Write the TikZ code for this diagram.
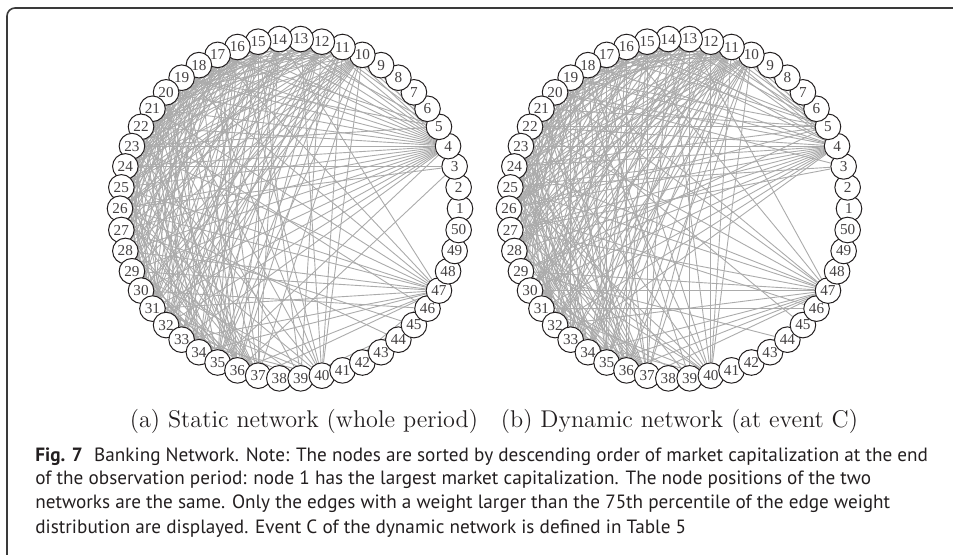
\documentclass[tikz,border=0pt]{standalone}
\usepackage{fontspec}
\usepackage{tikz}
\usetikzlibrary{positioning,backgrounds}
\newfontfamily\labelfont{Liberation Serif}
\newfontfamily\captionfont{PT Sans}
\definecolor{framegray}{HTML}{3A3A3A}
\definecolor{edgegray}{HTML}{ABABAB}
\definecolor{inkdark}{HTML}{231F20}
\tikzset{
  banknode/.style={
    circle,
    draw=inkdark,
    fill=white,
    line width=0.5pt,
    minimum size=12.8pt,
    inner sep=0pt,
    font=\labelfont\fontsize{7.6}{8}\selectfont,
    text=inkdark!85
  },
  link/.style={draw=edgegray, line width=0.45pt},
  subcap/.style={font=\fontsize{12.1}{14}\selectfont, text=inkdark},
  capline/.style={anchor=base west, inner sep=0pt, text=inkdark,
    font=\captionfont\fontsize{9.6}{12}\selectfont}
}

\begin{document}
\begin{tikzpicture}[x=0.5pt, y=-0.5pt]
  \useasboundingbox (0,0) rectangle (953,555);
  % outer frame
  \draw[framegray, line width=0.8pt, rounded corners=4pt] (7,556) -- (7,8) -- (954,8);

  % banks on a circle, node 1 on the right, counter-clockwise
  \foreach \p/\cx in {a/290, b/679}{
    \foreach \k in {1,...,50}{
      \node[banknode] (\p\k) at ({\cx+170*cos((\k-1)*7.2)}, {208.7-170*sin((\k-1)*7.2)}) {\k};
    }
  }

  \begin{scope}[on background layer]
    % static network: hubs
    \foreach \i/\js in {4/{10,11,12,13,14,15,16,17,18,19,20,21,22,23,24,25,26,27,28,29,30,31,32,33,35},
                        5/{11,12,14,17,19,23},
                        3/{24,26,36},
                        47/{14,17,19,21,23,25,26,28,29,31,33,34,36,37,41},
                        46/{22,30},
                        45/{27,39},
                        44/{26},
                        40/{10,11,13,16,18,20,23,26,29,31,33},
                        39/{12,15,21,28,32}}{
      \foreach \j in \js
        \draw[link] (a\i) -- (a\j);
    }
    % static network: dense core
    \pgfmathsetseed{7}
    \foreach \i in {10,...,36}{
      \pgfmathtruncatemacro{\nxt}{\i+1}
      \foreach \j in {\nxt,...,37}{
        \pgfmathrandominteger{\r}{1}{100}
        \ifnum\r<60 \draw[link] (a\i) -- (a\j); \fi
      }
    }

    % dynamic network: hubs
    \foreach \i/\js in {4/{10,11,12,13,15,16,18,19,20,22,23,24,25,26,27,28,29,30,31,32,33},
                        5/{10,11,12,13,14,16,17,19,21,22,24,26,29},
                        3/{20,25,27},
                        47/{13,16,19,20,22,24,25,27,29,30,32,34,35,36,37},
                        46/{26,31,41},
                        45/{21},
                        44/{29},
                        40/{10,11,12,14,17,19,22,25,27,28,31,33},
                        39/{13,18,24,30}}{
      \foreach \j in \js
        \draw[link] (b\i) -- (b\j);
    }
    % dynamic network: dense core
    \pgfmathsetseed{23}
    \foreach \i in {10,...,36}{
      \pgfmathtruncatemacro{\nxt}{\i+1}
      \foreach \j in {\nxt,...,37}{
        \pgfmathrandominteger{\r}{1}{100}
        \ifnum\r<60 \draw[link] (b\i) -- (b\j); \fi
      }
    }
  \end{scope}

  % sub-captions
  \node[subcap] (capa) at (304,421) {(a) Static network (whole period)};
  \node[subcap] (capb) at (679.5,421) {(b) Dynamic network (at event C)};

  % figure caption
  \node[capline] (cap1) at (35,461) {\textbf{Fig. 7}\hspace{0.6em}Banking Network. Note: The nodes are sorted by descending order of market capitalization at the end};
  \node[capline] (cap2) at (35,485) {of the observation period: node 1 has the largest market capitalization. The node positions of the two};
  \node[capline] (cap3) at (35,509) {networks are the same. Only the edges with a weight larger than the 75th percentile of the edge weight};
  \node[capline] (cap4) at (35,533) {distribution are displayed. Event C of the dynamic network is defined in Table 5};
\end{tikzpicture}
\end{document}
